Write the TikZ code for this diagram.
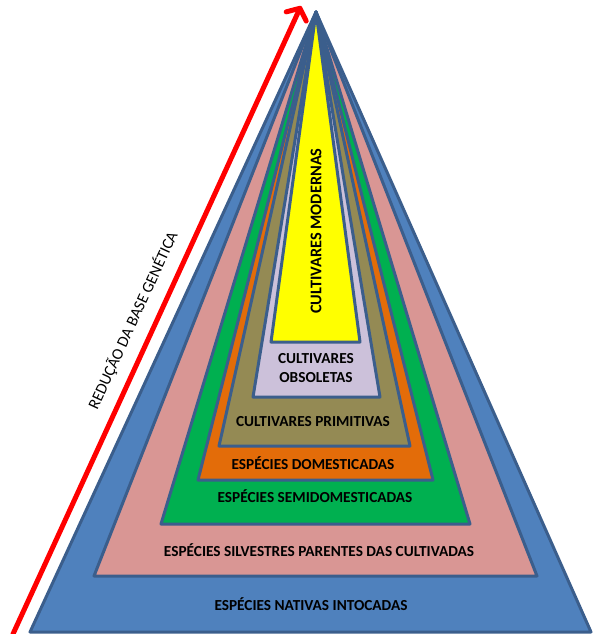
\documentclass[tikz,border=0pt]{standalone}
\usepackage{fontspec}
\setmainfont{Carlito}
\usepackage{xcolor}
\usetikzlibrary{arrows.meta,positioning}

\definecolor{rim}{HTML}{3B5E8C}
\definecolor{nativa}{HTML}{4F81BD}
\definecolor{silvestre}{HTML}{D99694}
\definecolor{semidom}{HTML}{00B050}
\definecolor{domest}{HTML}{E36C09}
\definecolor{primitiva}{HTML}{948A54}
\definecolor{obsoleta}{HTML}{CCC1DA}
\definecolor{moderna}{HTML}{FFFF00}

\begin{document}
\begin{tikzpicture}[
  x=1pt, y=-1pt,
  layer/.style={draw=rim, line width=3pt, line join=round},
  tag/.style={font=\fontsize{15.3}{19}\selectfont\bfseries, text=black, align=center, inner sep=1pt},
  arrow/.style={draw=red, line width=5pt, line cap=round, -{Straight Barb[length=9pt, width=22pt, line cap=round, line join=round]}}
]
\useasboundingbox (0,0) rectangle (593,634);
\coordinate (apex) at (316,12);
% nested layers, outer to inner
\fill[nativa, layer] (apex) -- (30,632) -- (591,632) -- cycle;
\fill[silvestre, layer] (apex) -- (94,576) -- (537,576) -- cycle;
\fill[semidom, layer] (apex) -- (161,524) -- (470,524) -- cycle;
\fill[domest, layer] (apex) -- (198,480) -- (433,480) -- cycle;
\fill[primitiva, layer] (apex) -- (219,446) -- (410,446) -- cycle;
\fill[obsoleta, layer] (apex) -- (253,397) -- (380,397) -- cycle;
\fill[moderna, layer] (apex) -- (271,342) -- (360,342) -- cycle;

\node[tag] (nativas) at (311,604) {ESPÉCIES NATIVAS INTOCADAS};
\node[tag] (silvestres) at (319,550) {ESPÉCIES SILVESTRES PARENTES DAS CULTIVADAS};
\node[tag] (semidomesticadas) at (315,496) {ESPÉCIES SEMIDOMESTICADAS};
\node[tag] (domesticadas) at (313,463) {ESPÉCIES DOMESTICADAS};
\node[tag] (primitivas) at (313,422) {CULTIVARES PRIMITIVAS};
\node[tag] (obsoletas) at (316,368) {CULTIVARES\\OBSOLETAS};
\node[tag, rotate=90, font=\fontsize{16.3}{18}\selectfont\bfseries] (modernas) at (316,231) {CULTIVARES MODERNAS};

\coordinate (base) at (13,634);
\coordinate (topo) at (301,6);
\draw[arrow] (base) -- (topo)
  node[pos=0.485, sloped, above=8pt, font=\fontsize{16}{18}\selectfont, text=black] (reducao) {REDUÇÃO DA BASE GENÉTICA};
\end{tikzpicture}
\end{document}
